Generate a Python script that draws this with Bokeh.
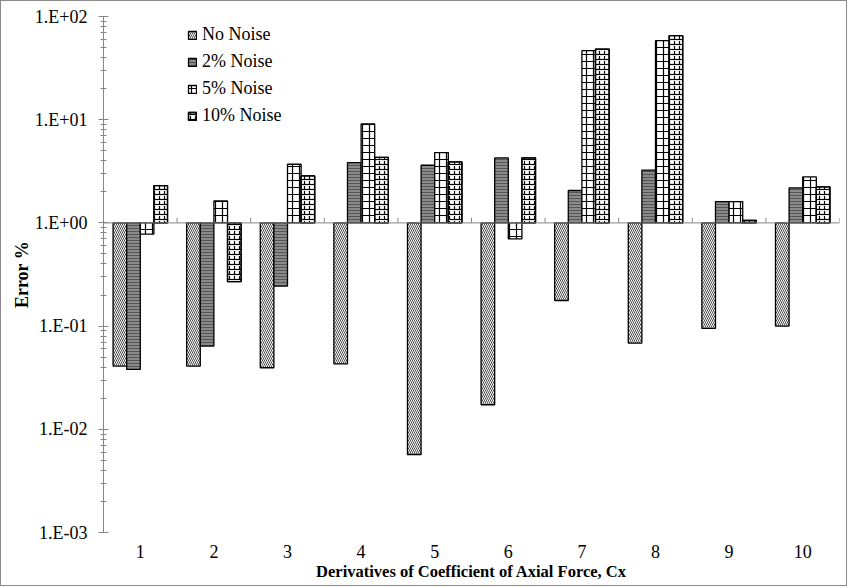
import numpy as np
from bokeh.plotting import figure
from bokeh.models import (Range1d, FixedTicker, Span, Legend, LegendItem,
                          ColumnDataSource)
from bokeh.embed import file_html
from bokeh.resources import INLINE

# ---------------- data ----------------
categories = [1, 2, 3, 4, 5, 6, 7, 8, 9, 10]
x_tick_labels = ["1", "2", "3", "4", "5", "6", "7", "8", "9", "10"]
series_names = ["No Noise", "2% Noise", "5% Noise", "10% Noise"]
no_noise = [0.041, 0.041, 0.0395, 0.043, 0.0057, 0.0173, 0.177, 0.0685, 0.095, 0.100]
noise_2 = [0.038, 0.064, 0.244, 3.84, 3.62, 4.26, 2.06, 3.24, 1.61, 2.18]
noise_5 = [0.78, 1.63, 3.70, 9.09, 4.80, 0.70, 46.7, 58.3, 1.61, 2.79]
noise_10 = [2.30, 0.27, 2.85, 4.32, 3.90, 4.26, 48.3, 65.2, 1.055, 2.23]
y_ticks = [1e-3, 1e-2, 1e-1, 1e0, 1e1, 1e2]
y_tick_labels = ["1.E-03", "1.E-02", "1.E-01", "1.E+00", "1.E+01", "1.E+02"]
baseline = 1.0

FONT = "Liberation Serif"
AXIS_GRAY = "#868686"

p = figure(width=847, height=586, y_axis_type="log",
           x_range=Range1d(0.5, 10.5), y_range=Range1d(1e-3, 1e2),
           output_backend="svg", toolbar_location=None,
           min_border_left=102, min_border_right=9,
           min_border_top=15, min_border_bottom=55)
p.styles = {"border": "1px solid #8c8c8c"}
p.outline_line_color = None
p.xgrid.visible = False
p.ygrid.visible = False
p.background_fill_color = "white"
p.border_fill_color = "white"

bar_w = 0.185
offsets = [-1.5 * bar_w, -0.5 * bar_w, 0.5 * bar_w, 1.5 * bar_w]
series_vals = [no_noise, noise_2, noise_5, noise_10]

styles = [
    dict(fill_color="white", hatch_pattern="left_diagonal_line", hatch_color="#4a4a4a",
         hatch_scale=4, hatch_weight=1),
    dict(fill_color="#8a8a8a", hatch_pattern="horizontal_line", hatch_color="#555555",
         hatch_scale=3, hatch_weight=1),
    dict(fill_color="white", hatch_pattern="cross", hatch_color="black",
         hatch_scale=7, hatch_weight=1.2),
    dict(fill_color="white", hatch_pattern="horizontal_line", hatch_color="black",
         hatch_scale=5, hatch_weight=1.2),
]

legend_items = []
for name, vals, off, st in zip(series_names, series_vals, offsets, styles):
    src = ColumnDataSource(dict(x=[c + off for c in categories], top=vals,
                                bottom=[baseline] * len(vals)))
    r = p.vbar(x="x", width=bar_w, top="top", bottom="bottom", source=src,
               line_color="black", line_width=1.3, **st)
    rs = [r]
    if name == "10% Noise":
        r2 = p.vbar(x="x", width=bar_w, top="top", bottom="bottom", source=src,
                    fill_color=None, line_color="black", line_width=1.3,
                    hatch_pattern="vertical_dash", hatch_color="black",
                    hatch_scale=5, hatch_weight=1.2)
        rs.append(r2)
    legend_items.append(LegendItem(label=name, renderers=rs))

# baseline at 1.E+00 with category boundary ticks
p.add_layout(Span(location=baseline, dimension="width", line_color=AXIS_GRAY, line_width=1))
bounds = [c + 0.5 for c in categories]
p.segment(x0=bounds, x1=bounds, y0=[baseline] * len(bounds),
          y1=[baseline * 1.12] * len(bounds), line_color=AXIS_GRAY, line_width=1)

# y axis
yax = p.yaxis[0]
minor = [k * d for d in y_ticks[:-1] for k in range(2, 10)]
yax.ticker = FixedTicker(ticks=y_ticks, minor_ticks=minor)
yax.major_label_overrides = {t: l for t, l in zip(y_ticks, y_tick_labels)}
yax.axis_line_color = AXIS_GRAY
yax.major_tick_line_color = AXIS_GRAY
yax.minor_tick_line_color = AXIS_GRAY
yax.major_tick_in = 5
yax.major_tick_out = 5
yax.minor_tick_in = 3
yax.minor_tick_out = 3
yax.major_label_standoff = 11
yax.major_label_text_font = FONT
yax.major_label_text_font_size = "18px"
yax.major_label_text_color = "black"
yax.axis_label = "Error %"
yax.axis_label_text_font = FONT
yax.axis_label_text_font_style = "bold"
yax.axis_label_text_font_size = "18px"
yax.axis_label_text_color = "black"
yax.axis_label_standoff = 0

# x axis (labels only, at bottom)
xax = p.xaxis[0]
xax.ticker = FixedTicker(ticks=categories)
xax.major_label_overrides = {c: l for c, l in zip(categories, x_tick_labels)}
xax.axis_line_color = None
xax.major_tick_line_color = None
xax.minor_tick_line_color = None
xax.major_tick_out = 0
xax.major_tick_in = 0
xax.major_label_standoff = 12
xax.major_label_text_font = FONT
xax.major_label_text_font_size = "18px"
xax.major_label_text_color = "black"
xax.axis_label = "Derivatives of Coefficient of Axial Force, Cx"
xax.axis_label_text_font = FONT
xax.axis_label_text_font_style = "bold"
xax.axis_label_text_font_size = "16.5px"
xax.axis_label_text_color = "black"
xax.axis_label_standoff = 1

legend = Legend(items=legend_items, location=(84, 403), orientation="vertical",
                border_line_color=None, background_fill_alpha=0,
                label_text_font=FONT, label_text_font_size="18px",
                label_text_color="black", glyph_width=10, glyph_height=10,
                label_height=27, spacing=0, padding=0, margin=0, label_standoff=5)
p.add_layout(legend, "center")

open("out.html", "w").write(file_html(p, INLINE))
